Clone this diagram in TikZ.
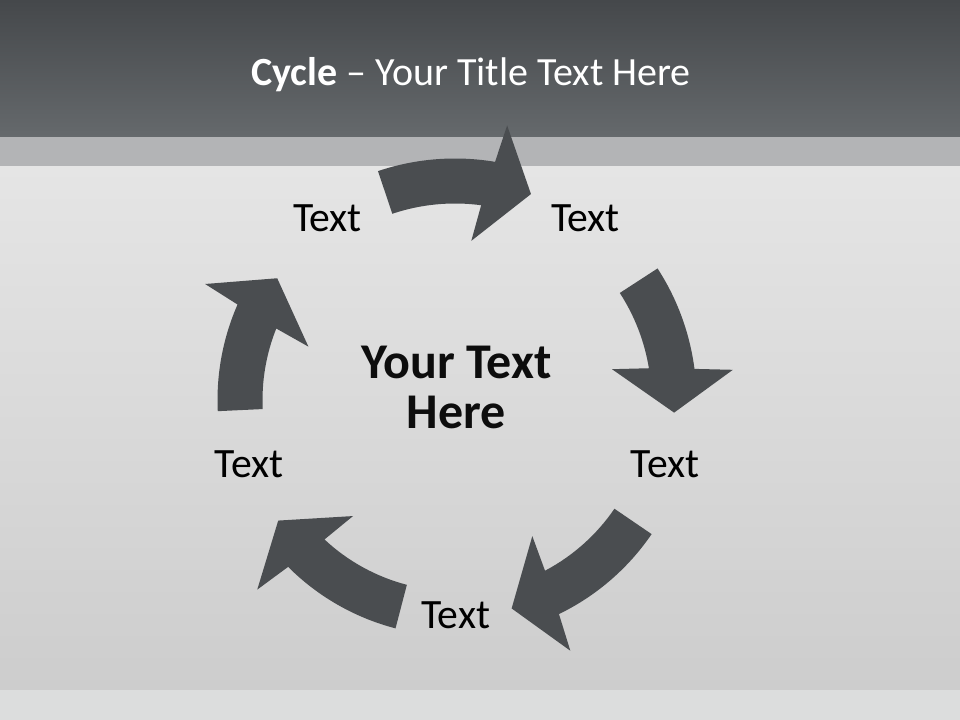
\documentclass[tikz,border=0pt]{standalone}
\usepackage{fontspec}
\setmainfont{Carlito}
\usetikzlibrary{calc}
\definecolor{hdtop}{HTML}{45484B}
\definecolor{hdbot}{HTML}{65696C}
\definecolor{bandc}{HTML}{B3B4B6}
\definecolor{bgtop}{HTML}{E5E5E5}
\definecolor{bgbot}{HTML}{CDCDCD}
\definecolor{floorc}{HTML}{DCDDDD}
\definecolor{arrowc}{HTML}{4A4D50}
\newcommand\cyclearrow[3]{% #1 tip angle, #2 tail angle, #3 radial offset
  \fill[arrowc] ($(C)+(#2:{239+#3})$)
    arc[start angle=#2, end angle={#1+10.7}, radius={239+#3}]
    -- ($(C)+({#1+9.5}:{277+#3})$)
    -- ($(C)+(#1:{217+#3})$)
    -- ($(C)+({#1+14.4}:{157.5+#3})$)
    -- ($(C)+({#1+12.6}:{194+#3})$)
    arc[start angle={#1+12.6}, end angle=#2, radius={194+#3}]
    -- cycle;}
\tikzset{
  lbl/.style={anchor=base, inner sep=0pt, text=black, font=\fontsize{31.3}{37}\selectfont},
  ttl/.style={anchor=base, inner sep=0pt, text=white, font=\fontsize{30}{36}\selectfont},
  ctr/.style={anchor=center, inner sep=0pt, align=center, text=black!95, font=\bfseries\fontsize{37.5}{37.5}\selectfont}
}
\begin{document}
\begin{tikzpicture}[x=0.75pt, y=0.75pt]
\useasboundingbox (0,0) rectangle (960,720);
% background
\shade[top color=bgtop, bottom color=bgbot] (0,30) rectangle (960,554.3);
\fill[floorc] (0,0) rectangle (960,30);
\fill[bandc] (0,554.3) rectangle (960,583.3);
\shade[top color=hdtop, bottom color=hdbot] (0,583.3) rectangle (960,720);
% title
\node[ttl] (title) at (471,634) {\textbf{Cycle} – Your Title Text Here};
% arrows
\coordinate (C) at (455,320);
\cyclearrow{69.75}{108.6}{2.5}
\cyclearrow{-3.3}{33.0}{2.5}
\cyclearrow{-74.8}{-34.3}{-1}
\cyclearrow{-145.7}{-104.6}{-3}
\cyclearrow{145.6}{182.7}{-1.5}
% labels
\node[lbl] (t1) at (327.5,488.3) {Text};
\node[lbl] (t2) at (585.5,488.3) {Text};
\node[lbl] (t3) at (665,242.5) {Text};
\node[lbl] (t4) at (455.8,91.7) {Text};
\node[lbl] (t5) at (249,242.5) {Text};
\node[ctr] (center) at (456.5,333) {Your Text\\Here};
\end{tikzpicture}
\end{document}
